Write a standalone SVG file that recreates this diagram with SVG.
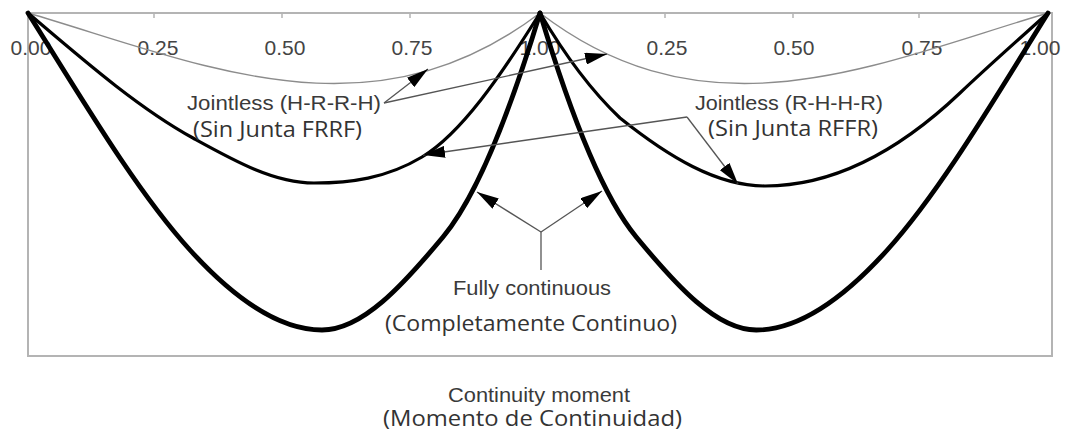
<svg xmlns="http://www.w3.org/2000/svg" width="1075" height="431" viewBox="0 0 1075 431">
<style>
.frame{fill:none;stroke:#b4b4b4;stroke-width:2}
.tick{stroke:#b4b4b4;stroke-width:1.5}
.thin{fill:none;stroke:#8c8c8c;stroke-width:1.4}
.med{fill:none;stroke:#000;stroke-width:3.2;stroke-linecap:round}
.thick{fill:none;stroke:#000;stroke-width:4.8;stroke-linecap:round}
.lead{fill:none;stroke:#555;stroke-width:1.3}
.num{font-family:"Liberation Sans",Arial,sans-serif;font-size:21px;fill:#444;text-anchor:middle}
.en{font-family:"Liberation Sans",Arial,sans-serif;font-size:21px;fill:#3a3a3a}
.es{font-family:"Open Sans","Noto Sans",sans-serif;font-size:21px;fill:#333}
</style>
<defs>
<marker id="ah" markerUnits="userSpaceOnUse" markerWidth="22" markerHeight="12" viewBox="0 0 22 12" refX="22" refY="6" orient="auto">
<path d="M0,0 L22,6 L0,12 Z" fill="#000"/>
</marker>
</defs>
<rect width="1075" height="431" fill="#fff"/>
<g id="axes">
<rect class="frame" x="28" y="13" width="1024" height="343"/>
<path class="tick" d="M154,13V18M282,13V18M410,13V18M665,13V18M793,13V18M919,13V18"/>
<text class="num" x="31" y="55">0.00</text>
<text class="num" x="158" y="55">0.25</text>
<text class="num" x="285" y="55">0.50</text>
<text class="num" x="412" y="55">0.75</text>
<text class="num" x="540" y="55">1.00</text>
<text class="num" x="667" y="55">0.25</text>
<text class="num" x="794" y="55">0.50</text>
<text class="num" x="922" y="55">0.75</text>
<text class="num" x="1040" y="55">1.00</text>
</g>
<g id="curves">
<path id="thin-left" class="thin" d="M28,13 C199,63 369,143 540,13"/>
<path id="thin-right" class="thin" d="M540,13 C709.7,143 878.3,63 1048,13"/>
<path id="jointless-left" class="med" d="M28,13 C83,59.75 138,107.75 193,138 C233.3,160.2 273.7,183 314,183 C350,183 386,178.6 422,157 C461.3,133.4 500.7,75.9 540,13"/>
<path id="jointless-right" class="med" d="M540,13 C566.7,58.3 593.3,92.7 620,118 C668.3,156.6 716.7,186 765,186 C830,186 895,154.75 960,93 C989.3,65.1 1018.7,39.4 1048,13"/>
<path id="continuous-left" class="thick" d="M28,13 C82,99 136,190.6 190,250 C234,298.4 278,330 322,330 C362.3,330 402.7,285.4 443,237 C475.3,198.2 507.7,119.7 540,13"/>
<path id="continuous-right" class="thick" d="M540,13 C572.05,119.7 604.19,198.2 636.24,237 C676.23,285.4 716.31,330 756.29,330 C799.95,330 843.61,298.4 887.26,250 C940.84,190.6 994.42,99 1048,13"/>
</g>
<g id="connectors">
<path class="lead" d="M384,103 L428,69" marker-end="url(#ah)"/>
<path class="lead" d="M384,103 L607,54" marker-end="url(#ah)"/>
<path class="lead" d="M687,117 L423,155" marker-end="url(#ah)"/>
<path class="lead" d="M687,117 L738,184" marker-end="url(#ah)"/>
<path class="lead" d="M541,270 L541,232"/>
<path class="lead" d="M541,232 L477,192" marker-end="url(#ah)"/>
<path class="lead" d="M541,232 L602,191" marker-end="url(#ah)"/>
</g>
<g id="label-hrrh">
<text class="en" x="187" y="110" textLength="194" lengthAdjust="spacingAndGlyphs">Jointless (H-R-R-H)</text>
<text class="es" x="193" y="137" textLength="169" lengthAdjust="spacingAndGlyphs">(Sin Junta FRRF)</text>
</g>
<g id="label-rhhr">
<text class="en" x="695" y="110" textLength="188" lengthAdjust="spacingAndGlyphs">Jointless (R-H-H-R)</text>
<text class="es" x="708" y="136" textLength="170" lengthAdjust="spacingAndGlyphs">(Sin Junta RFFR)</text>
</g>
<g id="label-continuous">
<text class="en" x="453" y="295" textLength="158" lengthAdjust="spacingAndGlyphs">Fully continuous</text>
<text class="es" x="385" y="331" textLength="292" lengthAdjust="spacingAndGlyphs">(Completamente Continuo)</text>
</g>
<g id="axis-title">
<text class="en" x="448" y="402" textLength="182" lengthAdjust="spacingAndGlyphs" style="font-size:20px">Continuity moment</text>
<text class="es" x="383" y="426" textLength="299" lengthAdjust="spacingAndGlyphs">(Momento de Continuidad)</text>
</g>
</svg>
